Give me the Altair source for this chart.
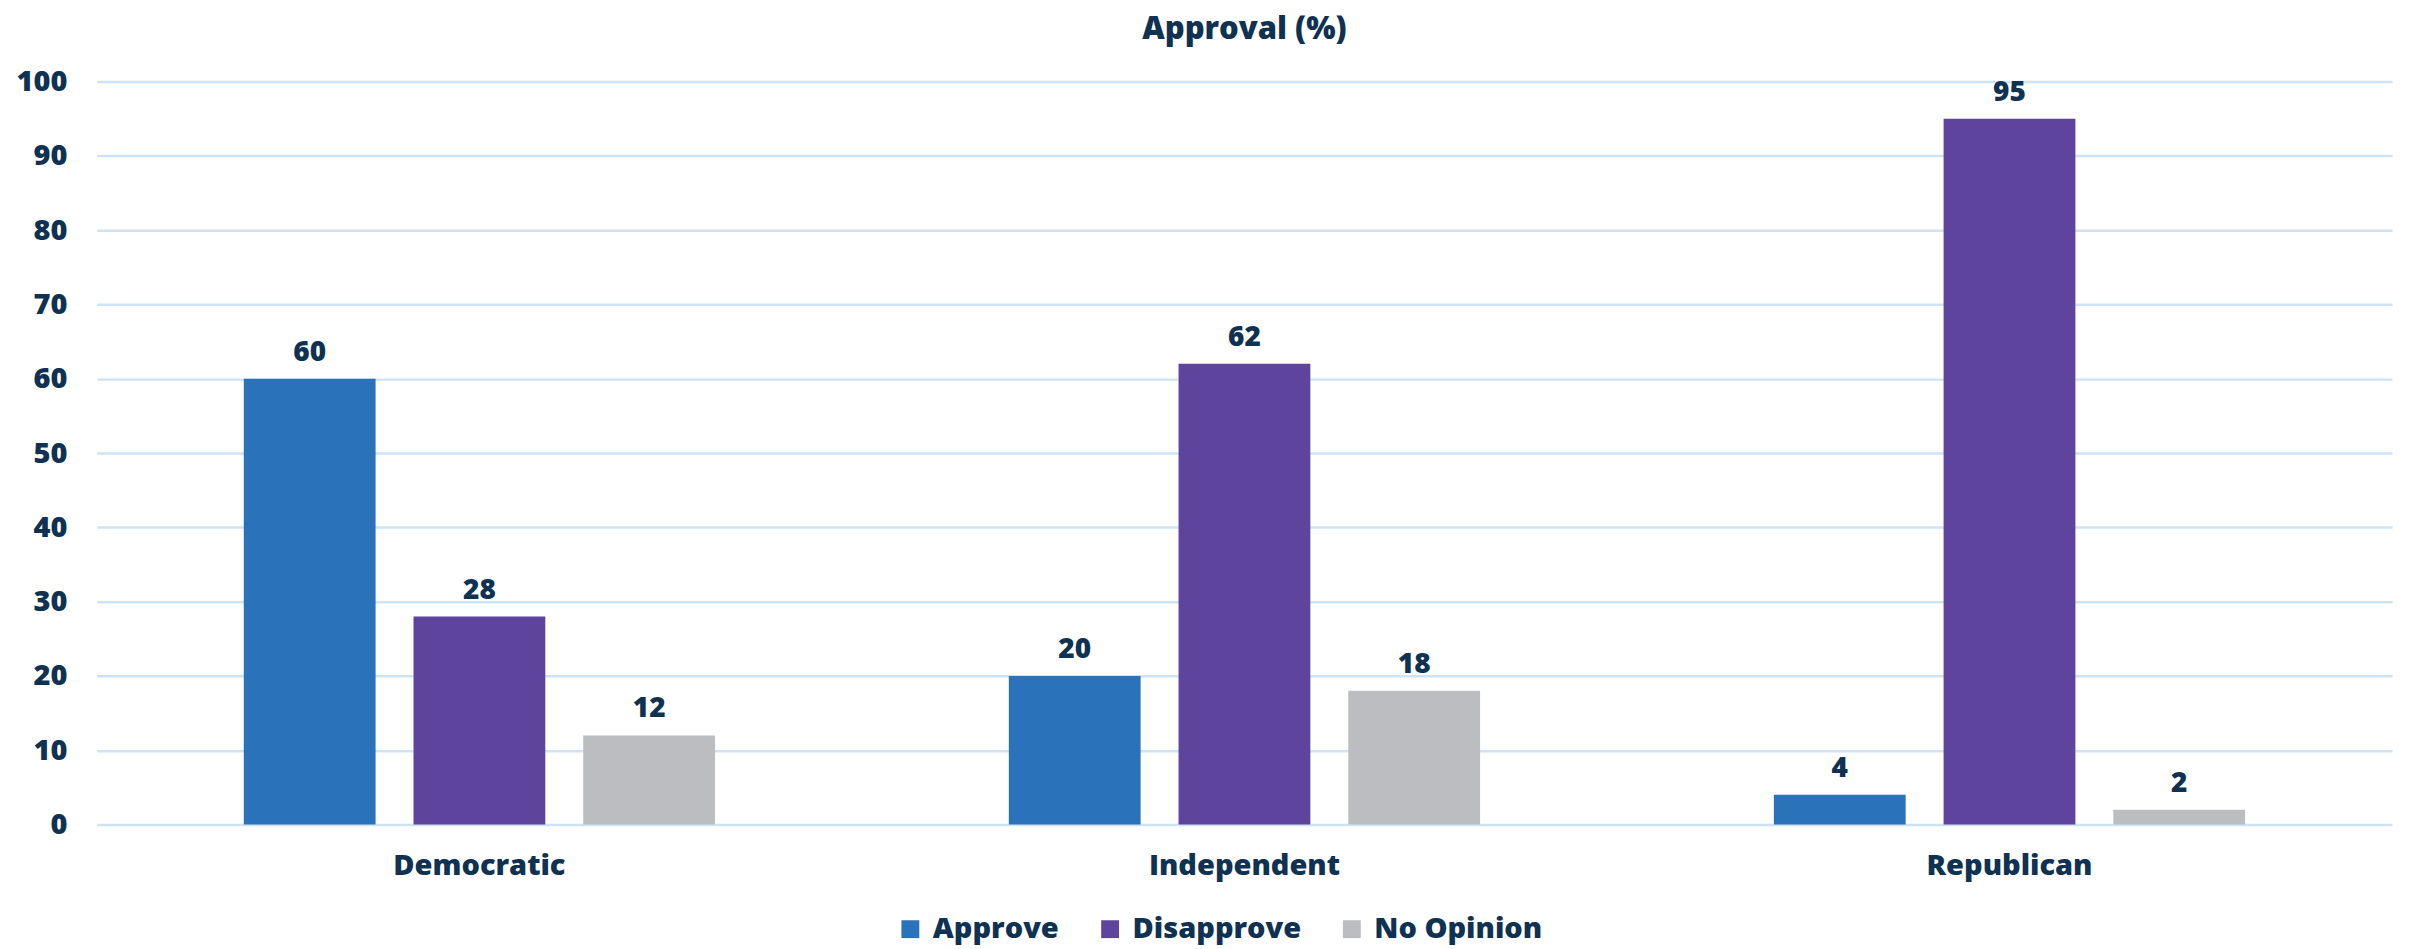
import altair as alt
import pandas as pd

parties = ["Democratic", "Independent", "Republican"]
responses = ["Approve", "Disapprove", "No Opinion"]
approve = [60, 20, 4]
disapprove = [28, 62, 95]
no_opinion = [12, 18, 2]
colors = ["#2a73ba", "#5e449c", "#bcbdc0"]
y_ticks = [0, 10, 20, 30, 40, 50, 60, 70, 80, 90, 100]

rows = []
for i, p in enumerate(parties):
    for r, vals in zip(responses, [approve, disapprove, no_opinion]):
        rows.append({"party": p, "response": r, "value": vals[i]})
df = pd.DataFrame(rows)

TEXT = "#0f3152"
FONT = "Open Sans"

base = alt.Chart(df).encode(
    x=alt.X("party:N", sort=parties, title=None,
            scale=alt.Scale(paddingInner=0.384, paddingOuter=0.192),
            axis=alt.Axis(labelAngle=0, domain=False, ticks=False, labelPadding=27,
                          labelLimit=600,
                          labelFontSize=29, labelFontWeight=800, labelColor=TEXT, labelFont=FONT)),
    xOffset=alt.XOffset("response:N", sort=responses,
                        scale=alt.Scale(paddingInner=0.2235, paddingOuter=0)),
)

bars = base.mark_bar().encode(
    y=alt.Y("value:Q", title=None,
            scale=alt.Scale(domain=[0, 100], nice=False),
            axis=alt.Axis(values=y_ticks, domain=False, ticks=False, labelPadding=30,
                          gridColor="#cfe3f6", gridWidth=2.5,
                          labelFontSize=29, labelFontWeight=800, labelColor=TEXT, labelFont=FONT)),
    color=alt.Color("response:N", sort=responses,
                    scale=alt.Scale(domain=responses, range=colors),
                    legend=alt.Legend(title=None, orient="none", direction="horizontal",
                                      legendX=800, legendY=834,
                                      symbolType="square", symbolSize=320, symbolStrokeWidth=0,
                                      symbolOpacity=1, labelLimit=600,
                                      labelFontSize=29, labelFontWeight=800, labelColor=TEXT,
                                      labelFont=FONT, columnPadding=36, labelOffset=8)),
)

labels = base.mark_text(baseline="bottom", dy=-12, fontSize=28, fontWeight=800,
                        color=TEXT, font=FONT).encode(
    y="value:Q",
    text="value:Q",
)

chart = (bars + labels).properties(
    width=2298, height=744,
    padding={"left": 89, "top": 73, "right": 10, "bottom": 124},
    autosize=alt.AutoSizeParams(type="none"),
    title=alt.TitleParams("Approval (%)", fontSize=31, fontWeight=800, color=TEXT,
                          font=FONT, anchor="middle", offset=22),
).configure_view(stroke=None)

chart.save("out.html", embed_options={"renderer": "svg", "actions": False})
